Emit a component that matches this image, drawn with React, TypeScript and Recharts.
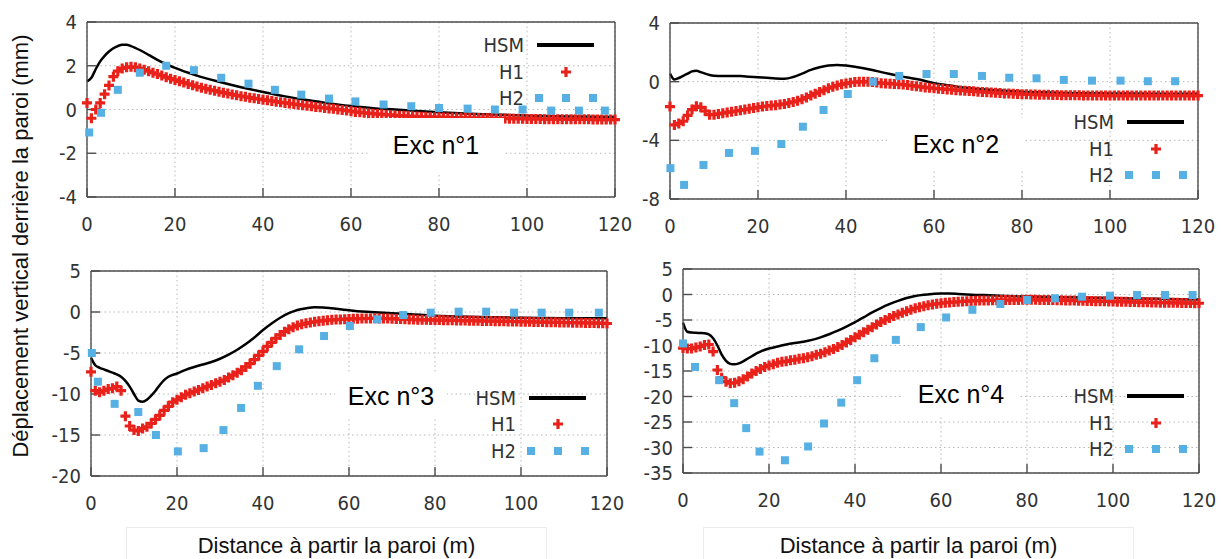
import React from "react";
import { LineChart, Line, XAxis, YAxis, CartesianGrid, Legend } from "recharts";

// ---------------------------------------------------------------------------
// Data (read off the four "Exc" panels)
// ---------------------------------------------------------------------------

const X_TICKS = [0, 20, 40, 60, 80, 100, 120];
const SERIES_NAMES = ["HSM", "H1", "H2"];
// H1 is sampled every metre from the wall
const H1_X = Array.from({ length: 121 }, (_, i) => i);

// Exc n°1
const P1_Y_TICKS = [-4, -2, 0, 2, 4];
const P1_HSM_X = [0, 1, 2, 3, 4, 5, 6, 7, 8, 9, 10, 12, 14, 16, 18, 20, 25, 30, 35, 40, 45, 50, 55, 60, 65, 70, 75, 80, 90, 100, 110, 120];
const P1_HSM_Y = [1.29, 1.45, 1.85, 2.2, 2.45, 2.65, 2.8, 2.9, 2.96, 2.96, 2.9, 2.72, 2.5, 2.27, 2.08, 1.9, 1.55, 1.27, 1.02, 0.8, 0.6, 0.43, 0.28, 0.16, 0.06, 0.0, -0.07, -0.13, -0.22, -0.28, -0.32, -0.34];
const P1_H1_Y = [
  0.3, -0.4, 0.0, 0.3, 0.7, 1.1, 1.5, 1.75, 1.88, 1.93,
  1.95, 1.93, 1.88, 1.82, 1.75, 1.68, 1.62, 1.55, 1.48, 1.41,
  1.35, 1.29, 1.23, 1.17, 1.11, 1.05, 1.0, 0.95, 0.9, 0.86,
  0.81, 0.77, 0.73, 0.69, 0.65, 0.61, 0.58, 0.54, 0.51, 0.48,
  0.45, 0.42, 0.39, 0.36, 0.33, 0.3, 0.28, 0.25, 0.22, 0.2,
  0.17, 0.15, 0.12, 0.1, 0.07, 0.05, 0.03, 0.0, -0.02, -0.05,
  -0.08, -0.11, -0.13, -0.15, -0.17, -0.19, -0.21, -0.22, -0.24, -0.25,
  -0.27, -0.28, -0.29, -0.3, -0.31, -0.32, -0.33, -0.33, -0.34, -0.35,
  -0.35, -0.36, -0.36, -0.37, -0.37, -0.38, -0.38, -0.39, -0.39, -0.39,
  -0.4, -0.4, -0.4, -0.41, -0.41, -0.41, -0.42, -0.42, -0.42, -0.42,
  -0.43, -0.43, -0.43, -0.43, -0.44, -0.44, -0.44, -0.44, -0.44, -0.45,
  -0.45, -0.45, -0.45, -0.45, -0.45, -0.46, -0.46, -0.46, -0.46, -0.46,
  -0.46,
];
const P1_H2_X = [0.5, 3.2, 7, 12, 18, 24.3, 30.5, 36.7, 42.7, 48.7, 55, 61, 67.4, 73.7, 80, 86.5, 92.7, 99, 105.5, 111.8, 117.7];
const P1_H2_Y = [-1.05, -0.15, 0.9, 1.68, 2.0, 1.8, 1.45, 1.18, 0.9, 0.68, 0.5, 0.37, 0.23, 0.15, 0.07, 0.04, 0.0, 0.0, -0.05, -0.05, -0.05];

// Exc n°2
const P2_Y_TICKS = [-8, -4, 0, 4];
const P2_HSM_X = [0, 1, 2, 3, 4, 5, 6, 7, 8, 9, 10, 12, 14, 16, 18, 20, 22, 24, 26, 28, 30, 32, 34, 36, 38, 40, 42, 44, 46, 48, 50, 52, 54, 56, 58, 60, 62, 64, 66, 68, 70, 75, 80, 85, 90, 100, 110, 120];
const P2_HSM_Y = [0.55, 0.15, 0.25, 0.4, 0.55, 0.7, 0.75, 0.65, 0.55, 0.45, 0.4, 0.38, 0.38, 0.38, 0.34, 0.3, 0.26, 0.22, 0.2, 0.32, 0.55, 0.8, 0.98, 1.1, 1.14, 1.1, 1.02, 0.92, 0.8, 0.65, 0.52, 0.4, 0.28, 0.18, 0.05, -0.1, -0.2, -0.28, -0.38, -0.44, -0.5, -0.6, -0.68, -0.73, -0.77, -0.8, -0.82, -0.83];
const P2_H1_Y = [
  -1.7, -2.95, -2.85, -2.7, -2.3, -1.9, -1.68, -1.75, -2.0, -2.25,
  -2.25, -2.2, -2.15, -2.1, -2.05, -2.0, -1.95, -1.9, -1.85, -1.8,
  -1.75, -1.7, -1.66, -1.63, -1.6, -1.56, -1.52, -1.45, -1.38, -1.3,
  -1.2, -1.08, -0.95, -0.82, -0.7, -0.58, -0.45, -0.35, -0.26, -0.18,
  -0.12, -0.07, -0.03, -0.01, 0.0, -0.01, -0.03, -0.06, -0.1, -0.12,
  -0.14, -0.16, -0.18, -0.2, -0.23, -0.27, -0.31, -0.35, -0.39, -0.42,
  -0.45, -0.48, -0.5, -0.53, -0.55, -0.58, -0.6, -0.62, -0.64, -0.66,
  -0.68, -0.7, -0.72, -0.74, -0.76, -0.78, -0.8, -0.81, -0.82, -0.84,
  -0.85, -0.86, -0.87, -0.88, -0.89, -0.9, -0.9, -0.91, -0.91, -0.92,
  -0.92, -0.93, -0.93, -0.93, -0.94, -0.94, -0.94, -0.94, -0.94, -0.95,
  -0.95, -0.95, -0.95, -0.95, -0.95, -0.95, -0.95, -0.95, -0.95, -0.95,
  -0.95, -0.95, -0.95, -0.95, -0.95, -0.95, -0.95, -0.95, -0.95, -0.95,
  -0.95,
];
const P2_H2_X = [0.1, 3.2, 7.6, 13.4, 19.3, 25.3, 30.2, 34.9, 40.4, 46.1, 52.1, 58.3, 64.5, 70.9, 77.1, 83.3, 89.5, 95.9, 102.4, 108.6, 114.8];
const P2_H2_Y = [-5.9, -7.04, -5.68, -4.86, -4.72, -4.25, -3.07, -1.93, -0.84, 0.0, 0.39, 0.52, 0.52, 0.39, 0.27, 0.23, 0.12, 0.07, 0.07, 0.03, 0.03];

// Exc n°3
const P3_Y_TICKS = [-20, -15, -10, -5, 0, 5];
const P3_HSM_X = [0, 1, 2, 3, 4, 5, 6, 7, 8, 9, 10, 11, 12, 13, 14, 15, 16, 17, 18, 20, 22, 24, 26, 28, 30, 32, 34, 36, 38, 40, 42, 44, 46, 48, 50, 52, 54, 56, 58, 60, 62, 65, 70, 75, 80, 90, 100, 110, 120];
const P3_HSM_Y = [-5.6, -6.5, -6.8, -7.0, -7.2, -7.4, -7.6, -7.9, -8.4, -9.1, -10.0, -10.8, -10.95, -10.7, -10.2, -9.6, -8.9, -8.3, -7.9, -7.5, -7.05, -6.7, -6.4, -6.1, -5.7, -5.2, -4.6, -3.9, -3.1, -2.2, -1.4, -0.7, -0.15, 0.25, 0.45, 0.57, 0.55, 0.45, 0.33, 0.2, 0.1, 0.0, -0.15, -0.3, -0.45, -0.6, -0.7, -0.75, -0.77];
const P3_H1_Y = [
  -7.3, -9.6, -9.8, -9.6, -9.4, -9.3, -9.1, -9.6, -12.7, -13.9,
  -14.4, -14.5, -14.2, -14.0, -13.6, -13.1, -12.6, -12.0, -11.5, -11.0,
  -10.7, -10.4, -10.1, -9.9, -9.7, -9.5, -9.3, -9.1, -8.9, -8.7,
  -8.5, -8.3, -8.0, -7.7, -7.4, -7.1, -6.7, -6.3, -5.8, -5.3,
  -4.8, -4.2, -3.7, -3.2, -2.8, -2.4, -2.1, -1.85, -1.65, -1.5,
  -1.38, -1.28, -1.2, -1.12, -1.06, -1.0, -0.96, -0.92, -0.9, -0.87,
  -0.85, -0.83, -0.82, -0.8, -0.79, -0.78, -0.77, -0.78, -0.79, -0.8,
  -0.82, -0.84, -0.86, -0.88, -0.9, -0.92, -0.93, -0.95, -0.96, -0.97,
  -0.98, -0.99, -1.0, -1.01, -1.02, -1.03, -1.04, -1.05, -1.06, -1.07,
  -1.08, -1.09, -1.1, -1.11, -1.12, -1.13, -1.14, -1.15, -1.16, -1.17,
  -1.18, -1.19, -1.2, -1.21, -1.22, -1.23, -1.24, -1.25, -1.26, -1.27,
  -1.28, -1.29, -1.3, -1.31, -1.32, -1.33, -1.34, -1.35, -1.36, -1.38,
  -1.4,
];
const P3_H2_X = [0.2, 1.6, 5.5, 11, 15.1, 20.2, 26.2, 30.8, 34.9, 38.8, 43.2, 48.4, 54.2, 60.2, 66.6, 72.6, 79, 85.5, 91.9, 98.4, 104.8, 111.2, 118.1];
const P3_H2_Y = [-5.0, -8.5, -11.2, -12.2, -15.0, -17.0, -16.6, -14.4, -11.7, -9.0, -6.6, -4.55, -2.93, -1.7, -0.9, -0.37, -0.08, 0.04, 0.04, -0.08, -0.08, -0.08, -0.08];

// Exc n°4
const P4_Y_TICKS = [-35, -30, -25, -20, -15, -10, -5, 0, 5];
const P4_HSM_X = [0, 1, 2, 3, 4, 5, 6, 7, 8, 9, 10, 11, 12, 13, 14, 15, 16, 17, 18, 20, 22, 24, 26, 28, 30, 32, 34, 36, 38, 40, 42, 44, 46, 48, 50, 52, 54, 56, 58, 60, 62, 64, 66, 70, 75, 80, 90, 100, 110, 120];
const P4_HSM_Y = [-5.5, -7.3, -7.45, -7.5, -7.55, -7.6, -7.8, -8.6, -10.0, -11.8, -13.0, -13.6, -13.7, -13.5, -13.1, -12.6, -12.1, -11.6, -11.2, -10.6, -10.2, -9.8, -9.5, -9.25, -8.9, -8.4, -7.8, -7.1, -6.3, -5.4, -4.5, -3.5, -2.65, -1.9, -1.25, -0.7, -0.3, -0.05, 0.1, 0.2, 0.2, 0.12, 0.02, -0.12, -0.28, -0.4, -0.55, -0.7, -0.85, -1.0];
const P4_H1_Y = [
  -10.5, -10.6, -10.6, -10.4, -10.2, -9.9, -9.8, -11.2, -14.8, -16.3,
  -17.1, -17.4, -17.3, -17.0, -16.6, -16.1, -15.5, -15.0, -14.6, -14.2,
  -13.9, -13.7, -13.4, -13.2, -13.1, -12.9, -12.8, -12.6, -12.5, -12.3,
  -12.1, -11.8, -11.6, -11.3, -11.0, -10.7, -10.3, -9.9, -9.4, -8.9,
  -8.4, -7.9, -7.4, -6.9, -6.4, -5.9, -5.4, -5.0, -4.6, -4.2,
  -3.9, -3.6, -3.3, -3.0, -2.7, -2.5, -2.3, -2.1, -1.95, -1.82,
  -1.72, -1.62, -1.55, -1.48, -1.42, -1.36, -1.3, -1.26, -1.22, -1.2,
  -1.18, -1.16, -1.14, -1.12, -1.1, -1.09, -1.08, -1.07, -1.06, -1.05,
  -1.05, -1.05, -1.05, -1.06, -1.07, -1.08, -1.1, -1.12, -1.14, -1.16,
  -1.18, -1.2, -1.22, -1.24, -1.26, -1.28, -1.3, -1.32, -1.34, -1.36,
  -1.38, -1.4, -1.42, -1.44, -1.46, -1.48, -1.5, -1.52, -1.54, -1.56,
  -1.58, -1.6, -1.61, -1.62, -1.63, -1.64, -1.65, -1.66, -1.68, -1.7,
  -1.72,
];
const P4_H2_X = [0, 2.8, 8.4, 11.9, 14.7, 17.8, 23.7, 29.1, 32.8, 36.8, 40.5, 44.5, 49.5, 55.3, 61.2, 67.3, 73.8, 80, 86.5, 92.8, 99.3, 105.6, 112.1, 118.5];
const P4_H2_Y = [-9.6, -14.2, -16.8, -21.3, -26.2, -30.8, -32.5, -29.8, -25.3, -21.2, -16.8, -12.5, -8.9, -6.4, -4.5, -3.0, -1.86, -1.08, -0.75, -0.43, -0.23, -0.1, -0.1, -0.1];

// ---------------------------------------------------------------------------
// Styling / layout
// ---------------------------------------------------------------------------

const TICK_FONT = '"DejaVu Sans Condensed", "DejaVu Sans", sans-serif';
const TEXT_FONT = '"Liberation Sans", Arial, sans-serif';
const FRAME = "#4d4d4d";
const RED = "#e8221b";
const BLUE = "#56b0e3";

const zip = (xs: number[], ys: number[]) => xs.map((x, i) => ({ x, y: ys[i] }));

const PANELS = [
  {
    name: "Exc n°1",
    box: { left: 0, top: 0, width: 640, height: 250 },
    plot: { left: 87, right: 615, top: 22, bottom: 197 },
    yTicks: P1_Y_TICKS,
    hsm: zip(P1_HSM_X, P1_HSM_Y),
    h1: zip(H1_X, P1_H1_Y),
    h2: zip(P1_H2_X, P1_H2_Y),
    legend: { left: 474, top: 31.75 },
    label: { left: 368, top: 118, width: 136, height: 54 },
  },
  {
    name: "Exc n°2",
    box: { left: 600, top: 0, width: 621, height: 250 },
    plot: { left: 70, right: 598, top: 23, bottom: 199 },
    yTicks: P2_Y_TICKS,
    hsm: zip(P2_HSM_X, P2_HSM_Y),
    h1: zip(H1_X, P2_H1_Y),
    h2: zip(P2_H2_X, P2_H2_Y),
    legend: { left: 464, top: 108.75 },
    label: { left: 887, top: 118, width: 138, height: 52 },
  },
  {
    name: "Exc n°3",
    box: { left: 0, top: 250, width: 630, height: 276 },
    plot: { left: 91, right: 607, top: 21, bottom: 226 },
    yTicks: P3_Y_TICKS,
    hsm: zip(P3_HSM_X, P3_HSM_Y),
    h1: zip(H1_X, P3_H1_Y),
    h2: zip(P3_H2_X, P3_H2_Y),
    legend: { left: 466, top: 134.5 },
    label: { left: 335, top: 374, width: 112, height: 44 },
  },
  {
    name: "Exc n°4",
    box: { left: 610, top: 250, width: 611, height: 276 },
    plot: { left: 73, right: 589, top: 19, bottom: 223 },
    yTicks: P4_Y_TICKS,
    hsm: zip(P4_HSM_X, P4_HSM_Y),
    h1: zip(H1_X, P4_H1_Y),
    h2: zip(P4_H2_X, P4_H2_Y),
    legend: { left: 454, top: 132.75 },
    label: { left: 902, top: 372, width: 118, height: 44 },
  },
];

const AXIS_LINE = { stroke: FRAME, strokeWidth: 1.4 };
const TICK_LINE = { stroke: FRAME, strokeWidth: 1.4 };
const TICK_TEXT = { fill: "#333", fontSize: 20, fontFamily: TICK_FONT };

const plusDot = (p: any) => {
  const { cx, cy, index } = p;
  if (cx == null || cy == null) return <g key={index} />;
  return (
    <path
      key={index}
      d={`M${cx - 5},${cy}H${cx + 5}M${cx},${cy - 5}V${cy + 5}`}
      stroke={RED}
      strokeWidth={3.2}
      fill="none"
    />
  );
};

const squareDot = (p: any) => {
  const { cx, cy, index } = p;
  if (cx == null || cy == null) return <g key={index} />;
  return <rect key={index} x={cx - 4} y={cy - 4} width={8} height={8} fill={BLUE} />;
};

function LegendBox() {
  return (
    <div style={{ fontFamily: TICK_FONT, fontSize: 20, color: "#333" }}>
      {SERIES_NAMES.map((name) => (
        <div key={name} style={{ display: "flex", alignItems: "center", height: 26.5 }}>
          <span style={{ width: 50, textAlign: "right", lineHeight: 1 }}>{name}</span>
          <svg width={62} height={20} style={{ marginLeft: 11, display: "block" }}>
            {name === "HSM" && <line x1={2} x2={59} y1={10} y2={10} stroke="#000" strokeWidth={4} />}
            {name === "H1" && <path d="M26,10H36M31,5V15" stroke={RED} strokeWidth={3.2} />}
            {name === "H2" &&
              [4, 31, 58].map((c) => <rect key={c} x={c - 4} y={6} width={8} height={8} fill={BLUE} />)}
          </svg>
        </div>
      ))}
    </div>
  );
}

function Panel({ cfg }: { cfg: (typeof PANELS)[number] }) {
  const { box, plot, yTicks } = cfg;
  const margin = {
    top: plot.top - 1,
    right: box.width - plot.right - 1,
    bottom: box.height - plot.bottom - 30,
    left: 0,
  };
  const yDomain = [yTicks[0], yTicks[yTicks.length - 1]];
  return (
    <div style={{ position: "absolute", left: box.left, top: box.top }}>
      <LineChart width={box.width} height={box.height} margin={margin}>
        <CartesianGrid xAxisId="b" yAxisId="l" stroke="#b8b8b8" strokeDasharray="1.5 3" />
        <XAxis
          xAxisId="b"
          type="number"
          dataKey="x"
          domain={[0, 120]}
          ticks={X_TICKS}
          interval={0}
          height={30}
          tickSize={-9}
          tickMargin={29}
          axisLine={AXIS_LINE}
          tickLine={TICK_LINE}
          tick={TICK_TEXT}
        />
        <XAxis
          xAxisId="t"
          orientation="top"
          type="number"
          dataKey="x"
          domain={[0, 120]}
          ticks={X_TICKS}
          interval={0}
          height={1}
          tickSize={-9}
          axisLine={AXIS_LINE}
          tickLine={TICK_LINE}
          tick={false}
        />
        <YAxis
          yAxisId="l"
          type="number"
          domain={yDomain}
          ticks={yTicks}
          interval={0}
          width={plot.left}
          tickSize={-9}
          tickMargin={19}
          axisLine={AXIS_LINE}
          tickLine={TICK_LINE}
          tick={TICK_TEXT}
        />
        <YAxis
          yAxisId="r"
          orientation="right"
          type="number"
          domain={yDomain}
          ticks={yTicks}
          interval={0}
          width={1}
          tickSize={-9}
          axisLine={AXIS_LINE}
          tickLine={TICK_LINE}
          tick={false}
        />
        <Line
          xAxisId="b"
          yAxisId="l"
          data={cfg.hsm}
          dataKey="y"
          name="HSM"
          type="monotone"
          stroke="#000"
          strokeWidth={2.5}
          dot={false}
          activeDot={false}
          isAnimationActive={false}
        />
        <Line
          xAxisId="b"
          yAxisId="l"
          data={cfg.h1}
          dataKey="y"
          name="H1"
          stroke="none"
          dot={plusDot}
          activeDot={false}
          isAnimationActive={false}
        />
        <Line
          xAxisId="b"
          yAxisId="l"
          data={cfg.h2}
          dataKey="y"
          name="H2"
          stroke="none"
          dot={squareDot}
          activeDot={false}
          isAnimationActive={false}
        />
        <Legend
          layout="vertical"
          align="center"
          verticalAlign="middle"
          wrapperStyle={{ left: cfg.legend.left, top: cfg.legend.top, width: 123 }}
          content={() => <LegendBox />}
        />
      </LineChart>
    </div>
  );
}

export default function App() {
  return (
    <div
      style={{
        position: "absolute",
        left: 0,
        top: 0,
        width: 1221,
        height: 559,
        overflow: "hidden",
        background: "#fff",
        fontFamily: TEXT_FONT,
      }}
    >
      {PANELS.map((p) => (
        <Panel key={p.name} cfg={p} />
      ))}

      {PANELS.map((p) => (
        <div
          key={p.name + "-label"}
          style={{
            position: "absolute",
            left: p.label.left,
            top: p.label.top,
            width: p.label.width,
            height: p.label.height,
            background: "#fff",
            display: "flex",
            alignItems: "center",
            justifyContent: "center",
            fontSize: 25,
            color: "#000",
            whiteSpace: "nowrap",
          }}
        >
          {p.name}
        </div>
      ))}

      {[
        { left: 126, width: 421 },
        { left: 703, width: 431 },
      ].map((b) => (
        <div
          key={b.left}
          style={{
            position: "absolute",
            left: b.left,
            top: 527,
            width: b.width,
            height: 32,
            border: "1px solid #ececec",
            borderBottom: "none",
            background: "#fff",
            textAlign: "center",
            fontSize: 22,
            paddingTop: 5,
            lineHeight: "26px",
            color: "#111",
            whiteSpace: "nowrap",
            boxSizing: "border-box",
          }}
        >
          Distance à partir la paroi (m)
        </div>
      ))}

      <div
        style={{
          position: "absolute",
          left: 21,
          top: 246,
          transform: "translate(-50%, -50%) rotate(-90deg)",
          fontSize: 22,
          color: "#111",
          whiteSpace: "nowrap",
        }}
      >
        Déplacement vertical derrière la paroi (mm)
      </div>
    </div>
  );
}
